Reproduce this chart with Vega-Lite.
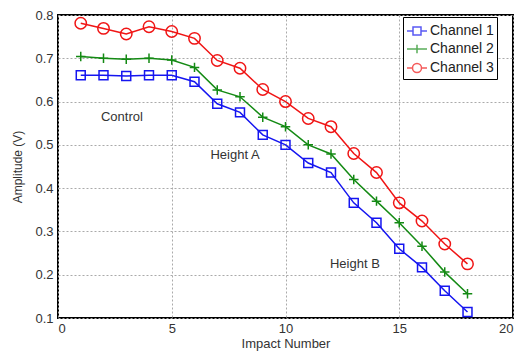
{
  "$schema": "https://vega.github.io/schema/vega-lite/v6.json",
  "width": 455,
  "height": 303,
  "autosize": {"type": "none"},
  "padding": {"left": 58, "top": 15, "right": 9, "bottom": 38},
  "background": "white",
  "config": {
    "font": "Liberation Sans",
    "view": {"stroke": "black", "strokeWidth": 2},
    "axis": {
      "domain": false,
      "ticks": false,
      "labelColor": "#333",
      "labelFontSize": 13,
      "titleColor": "#333",
      "titleFontWeight": "normal"
    }
  },
  "data": {
    "values": [
      {"x": 1, "y": 0.661, "c": "Channel 1"}, {"x": 2, "y": 0.661, "c": "Channel 1"}, {"x": 3, "y": 0.659, "c": "Channel 1"}, {"x": 4, "y": 0.661, "c": "Channel 1"}, {"x": 5, "y": 0.661, "c": "Channel 1"}, {"x": 6, "y": 0.646, "c": "Channel 1"}, {"x": 7, "y": 0.595, "c": "Channel 1"}, {"x": 8, "y": 0.575, "c": "Channel 1"}, {"x": 9, "y": 0.523, "c": "Channel 1"}, {"x": 10, "y": 0.5, "c": "Channel 1"}, {"x": 11, "y": 0.458, "c": "Channel 1"}, {"x": 12, "y": 0.436, "c": "Channel 1"}, {"x": 13, "y": 0.366, "c": "Channel 1"}, {"x": 14, "y": 0.32, "c": "Channel 1"}, {"x": 15, "y": 0.26, "c": "Channel 1"}, {"x": 16, "y": 0.217, "c": "Channel 1"}, {"x": 17, "y": 0.163, "c": "Channel 1"}, {"x": 18, "y": 0.114, "c": "Channel 1"},
      {"x": 1, "y": 0.704, "c": "Channel 2"}, {"x": 2, "y": 0.7, "c": "Channel 2"}, {"x": 3, "y": 0.698, "c": "Channel 2"}, {"x": 4, "y": 0.7, "c": "Channel 2"}, {"x": 5, "y": 0.696, "c": "Channel 2"}, {"x": 6, "y": 0.679, "c": "Channel 2"}, {"x": 7, "y": 0.627, "c": "Channel 2"}, {"x": 8, "y": 0.611, "c": "Channel 2"}, {"x": 9, "y": 0.564, "c": "Channel 2"}, {"x": 10, "y": 0.542, "c": "Channel 2"}, {"x": 11, "y": 0.5, "c": "Channel 2"}, {"x": 12, "y": 0.479, "c": "Channel 2"}, {"x": 13, "y": 0.42, "c": "Channel 2"}, {"x": 14, "y": 0.37, "c": "Channel 2"}, {"x": 15, "y": 0.32, "c": "Channel 2"}, {"x": 16, "y": 0.266, "c": "Channel 2"}, {"x": 17, "y": 0.206, "c": "Channel 2"}, {"x": 18, "y": 0.156, "c": "Channel 2"},
      {"x": 1, "y": 0.781, "c": "Channel 3"}, {"x": 2, "y": 0.769, "c": "Channel 3"}, {"x": 3, "y": 0.756, "c": "Channel 3"}, {"x": 4, "y": 0.773, "c": "Channel 3"}, {"x": 5, "y": 0.762, "c": "Channel 3"}, {"x": 6, "y": 0.746, "c": "Channel 3"}, {"x": 7, "y": 0.695, "c": "Channel 3"}, {"x": 8, "y": 0.677, "c": "Channel 3"}, {"x": 9, "y": 0.628, "c": "Channel 3"}, {"x": 10, "y": 0.6, "c": "Channel 3"}, {"x": 11, "y": 0.561, "c": "Channel 3"}, {"x": 12, "y": 0.542, "c": "Channel 3"}, {"x": 13, "y": 0.48, "c": "Channel 3"}, {"x": 14, "y": 0.436, "c": "Channel 3"}, {"x": 15, "y": 0.366, "c": "Channel 3"}, {"x": 16, "y": 0.324, "c": "Channel 3"}, {"x": 17, "y": 0.271, "c": "Channel 3"}, {"x": 18, "y": 0.225, "c": "Channel 3"}
    ]
  },
  "encoding": {
    "x": {
      "field": "x", "type": "quantitative",
      "scale": {"domain": [0, 20], "nice": false},
      "axis": {"values": [0, 5, 10, 15, 20], "title": "Impact Number", "titleFontSize": 13, "labelPadding": 4, "titlePadding": 2, "grid": true, "gridColor": "#aaaaaa", "gridDash": [2, 2], "gridWidth": 1}
    },
    "y": {
      "field": "y", "type": "quantitative",
      "scale": {"domain": [0.1, 0.8], "nice": false},
      "axis": {"values": [0.1, 0.2, 0.3, 0.4, 0.5, 0.6, 0.7, 0.8], "format": ".1f", "title": "Amplitude (V)", "titleFontSize": 12, "labelPadding": 5, "titlePadding": 10, "grid": true, "gridColor": "#aaaaaa", "gridDash": [2, 2], "gridWidth": 1}
    },
    "color": {
      "field": "c", "type": "nominal",
      "scale": {"domain": ["Channel 1", "Channel 2", "Channel 3"], "range": ["#1515f0", "#148a14", "#f01515"]}
    }
  },
  "layer": [
    {
      "transform": [{"filter": "datum.x > 100"}],
      "mark": {"type": "point", "filled": false, "strokeWidth": 1.5},
      "encoding": {
        "color": {
          "field": "c", "type": "nominal",
          "scale": {"domain": ["Channel 1", "Channel 2", "Channel 3"], "range": ["#1515f0", "#148a14", "#f01515"]},
          "legend": {
            "title": null,
            "orient": "none",
            "legendX": 345,
            "legendY": 2,
            "strokeColor": "black",
            "fillColor": "white",
            "padding": 3,
            "rowPadding": 0,
            "labelFontSize": 14,
            "labelColor": "#222",
            "labelOffset": 2,
            "symbolSize": 400,
            "symbolStrokeWidth": 1.5
          }
        },
        "shape": {
          "field": "c", "type": "nominal",
          "scale": {"domain": ["Channel 1", "Channel 2", "Channel 3"], "range": ["M-1,0H-0.4M0.4,0H1M-0.4,-0.4H0.4V0.4H-0.4Z", "M-1,0H1M0,-0.42V0.42", "M-1,0H-0.45M0.45,0A0.45,0.45,0,1,1,-0.45,0A0.45,0.45,0,1,1,0.45,0M0.45,0H1"]}
        }
      }
    },
    {
      "mark": {"type": "line", "strokeWidth": 1.5}
    },
    {
      "transform": [{"filter": "datum.c === 'Channel 1'"}],
      "mark": {"type": "point", "shape": "square", "size": 80, "filled": false, "strokeWidth": 1.5, "opacity": 1}
    },
    {
      "transform": [{"filter": "datum.c === 'Channel 2'"}],
      "mark": {"type": "point", "shape": "M-1,0H1M0,-1V1", "size": 90, "filled": false, "strokeWidth": 1.5, "opacity": 1}
    },
    {
      "transform": [{"filter": "datum.c === 'Channel 3'"}],
      "mark": {"type": "point", "shape": "circle", "size": 130, "filled": false, "strokeWidth": 1.5, "opacity": 1}
    },
    {
      "data": {
        "values": [
          {"x": 2.81, "y": 0.564, "t": "Control"},
          {"x": 7.78, "y": 0.477, "t": "Height A"},
          {"x": 13.05, "y": 0.225, "t": "Height B"}
        ]
      },
      "mark": {"type": "text", "fontSize": 13, "color": "#333", "align": "center", "baseline": "middle"},
      "encoding": {
        "text": {"field": "t", "type": "nominal"},
        "color": {"value": "#333"}
      }
    }
  ]
}
